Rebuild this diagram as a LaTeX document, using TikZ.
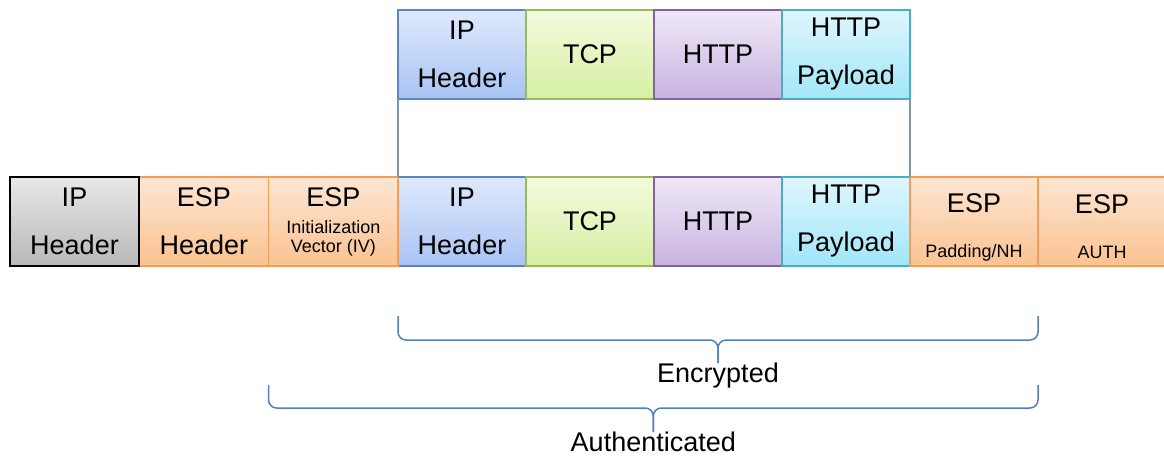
\documentclass[tikz,border=0pt]{standalone}
\usepackage{fontspec}
\setmainfont{Liberation Sans}
\usetikzlibrary{positioning,calc}

\definecolor{greyT}{HTML}{E8E8E8}
\definecolor{greyB}{HTML}{B8B8B8}
\definecolor{espT}{HTML}{FDE6D2}
\definecolor{espB}{HTML}{FBC291}
\definecolor{espD}{HTML}{F59D56}
\definecolor{ipT}{HTML}{DFE9FC}
\definecolor{ipB}{HTML}{A8C3F3}
\definecolor{ipD}{HTML}{5B85C4}
\definecolor{tcpT}{HTML}{F4FBDF}
\definecolor{tcpB}{HTML}{D6EFA2}
\definecolor{tcpD}{HTML}{9BBB59}
\definecolor{httpT}{HTML}{EFE8F7}
\definecolor{httpB}{HTML}{C8B4E0}
\definecolor{httpD}{HTML}{8064A2}
\definecolor{payT}{HTML}{DFF6FD}
\definecolor{payB}{HTML}{A2E6F8}
\definecolor{payD}{HTML}{4BACC6}
\definecolor{linkcol}{HTML}{7F93AE}
\definecolor{bracecol}{HTML}{4F81BD}

\begin{document}
\begin{tikzpicture}[x=1pt, y=-1pt,
    cell/.style={draw, line width=0.75pt, outer sep=0pt, inner sep=0pt,
        minimum width=64pt, minimum height=44.5pt, align=center,
        font=\fontsize{13.5}{24}\selectfont},
    greycell/.style={cell, draw=black, top color=greyT, bottom color=greyB},
    espcell/.style={cell, draw=espD, top color=espT, bottom color=espB},
    ipcell/.style={cell, draw=ipD, top color=ipT, bottom color=ipB},
    tcpcell/.style={cell, draw=tcpD, top color=tcpT, bottom color=tcpB},
    httpcell/.style={cell, draw=httpD, top color=httpT, bottom color=httpB},
    paycell/.style={cell, draw=payD, top color=payT, bottom color=payB},
    small/.style={font=\fontsize{9}{22.5}\selectfont},
    link/.style={draw=linkcol, line width=0.6pt},
    brace/.style={draw=bracecol, line width=0.75pt, rounded corners=4pt}]
    \useasboundingbox (0,0) rectangle (582,231.5);

    % original packet
    \node[ipcell, anchor=north west] (topip) at (199,5) {IP\\Header};
    \node[tcpcell, right=0pt of topip] (toptcp) {TCP};
    \node[httpcell, right=0pt of toptcp] (tophttp) {HTTP};
    \node[paycell, right=0pt of tophttp] (toppay) {HTTP\\Payload};

    % ESP packet
    \node[ipcell, anchor=north west] (ip) at (199,88.5) {IP\\Header};
    \node[espcell, left=0pt of ip, minimum width=64.7pt, font=\fontsize{9}{9.5}\selectfont] (espiv)
        {{\fontsize{13.5}{14}\selectfont ESP}\\[4pt]Initialization\\Vector (IV)};
    \node[espcell, left=0pt of espiv, minimum width=64.7pt] (esph) {ESP\\Header};
    \node[greycell, left=0pt of esph, minimum width=64.7pt] (outip) {IP\\Header};
    \node[tcpcell, right=0pt of ip] (tcp) {TCP};
    \node[httpcell, right=0pt of tcp] (http) {HTTP};
    \node[paycell, right=0pt of http] (pay) {HTTP\\Payload};
    \node[espcell, right=0pt of pay, small] (pad)
        {{\fontsize{13.5}{14}\selectfont\rule{0pt}{15pt}ESP}\\Padding/NH};
    \node[espcell, right=0pt of pad, small] (auth)
        {{\fontsize{13.5}{14}\selectfont\rule{0pt}{15pt}ESP}\\AUTH};

    \draw[link] (topip.south west) -- (ip.north west);
    \draw[link] (toppay.south east) -- (pay.north east);

    % braces
    \coordinate (enctip) at ($(ip.south west)!0.5!(pad.south east)+(0,48.5)$);
    \draw[brace] ($(ip.south west)+(0,25)$) -- ($(ip.south west)+(0,37)$)
        -- (enctip |- 0,170) -- (enctip);
    \draw[brace] ($(pad.south east)+(0,25)$) -- ($(pad.south east)+(0,37)$)
        -- (enctip |- 0,170) -- (enctip);
    \node[below=0pt of enctip, inner sep=0pt, font=\fontsize{13.5}{16}\selectfont] (enclbl) {Encrypted};

    \coordinate (authtip) at ($(espiv.south west)!0.5!(pad.south east)+(0,83)$);
    \draw[brace] ($(espiv.south west)+(0,59.5)$) -- ($(espiv.south west)+(0,71)$)
        -- (authtip |- 0,204) -- (authtip);
    \draw[brace] ($(pad.south east)+(0,59.5)$) -- ($(pad.south east)+(0,71)$)
        -- (authtip |- 0,204) -- (authtip);
    \node[below=0pt of authtip, inner sep=0pt, font=\fontsize{13.5}{16}\selectfont] (authlbl) {Authenticated};
\end{tikzpicture}
\end{document}
